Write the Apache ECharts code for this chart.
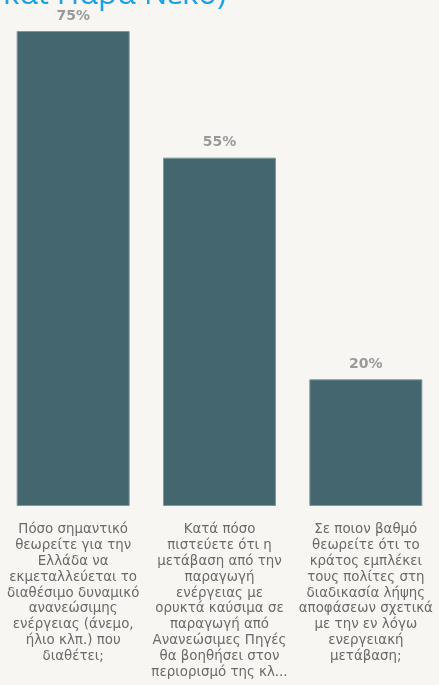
<!DOCTYPE html>
<html>
<head>
<meta charset="utf-8">
<script src="https://cdn.jsdelivr.net/npm/echarts@6/dist/echarts.min.js"></script>
<style>
html,body{margin:0;padding:0;background:#f7f6f2;}
#c{width:439px;height:685px;}
</style>
</head>
<body>
<div id="c"></div>
<script>
const titleText = 'και Παρα Νεκο)';
const categories = [
  'Πόσο σημαντικό\nθεωρείτε για την\nΕλλάδα να\nεκμεταλλεύεται το\nδιαθέσιμο δυναμικό\nανανεώσιμης\nενέργειας (άνεμο,\nήλιο κλπ.) που\nδιαθέτει;',
  'Κατά πόσο\nπιστεύετε ότι η\nμετάβαση από την\nπαραγωγή\nενέργειας με\nορυκτά καύσιμα σε\nπαραγωγή από\nΑνανεώσιμες Πηγές\nθα βοηθήσει στον\nπεριορισμό της κλ...',
  'Σε ποιον βαθμό\nθεωρείτε ότι το\nκράτος εμπλέκει\nτους πολίτες στη\nδιαδικασία λήψης\nαποφάσεων σχετικά\nμε την εν λόγω\nενεργειακή\nμετάβαση;'
];
const values = [75, 55, 20];

const chart = echarts.init(document.getElementById('c'));
chart.setOption({
  backgroundColor: '#f7f6f2',
  animation: false,
  title: {
    text: titleText,
    left: -2,
    top: -25,
    textStyle: {color: '#1ba1e6', fontSize: 31, fontWeight: 'normal', fontFamily: 'Open Sans'}
  },
  grid: {left: -3.5, right: -1, top: 31, bottom: 179, containLabel: false},
  xAxis: {
    type: 'category',
    data: categories,
    axisLine: {show: false},
    axisTick: {show: false},
    axisLabel: {
      interval: 0,
      margin: 16,
      color: '#6a6a6a',
      fontSize: 13.4,
      lineHeight: 15.8,
      fontFamily: 'DejaVu Sans',
      align: 'center',
      verticalAlign: 'top'
    }
  },
  yAxis: {
    type: 'value', min: 0, max: 75,
    show: false,
    splitLine: {show: false}
  },
  series: [{
    type: 'bar',
    data: values,
    barWidth: 113,
    itemStyle: {color: '#44666e', borderColor: '#7d979c', borderWidth: 1},
    label: {
      show: true,
      position: 'top',
      distance: 8,
      formatter: '{c}%',
      color: '#9a9a9a',
      fontSize: 14,
      fontWeight: 'bold',
      fontFamily: 'DejaVu Sans'
    }
  }]
});
</script>
</body>
</html>
